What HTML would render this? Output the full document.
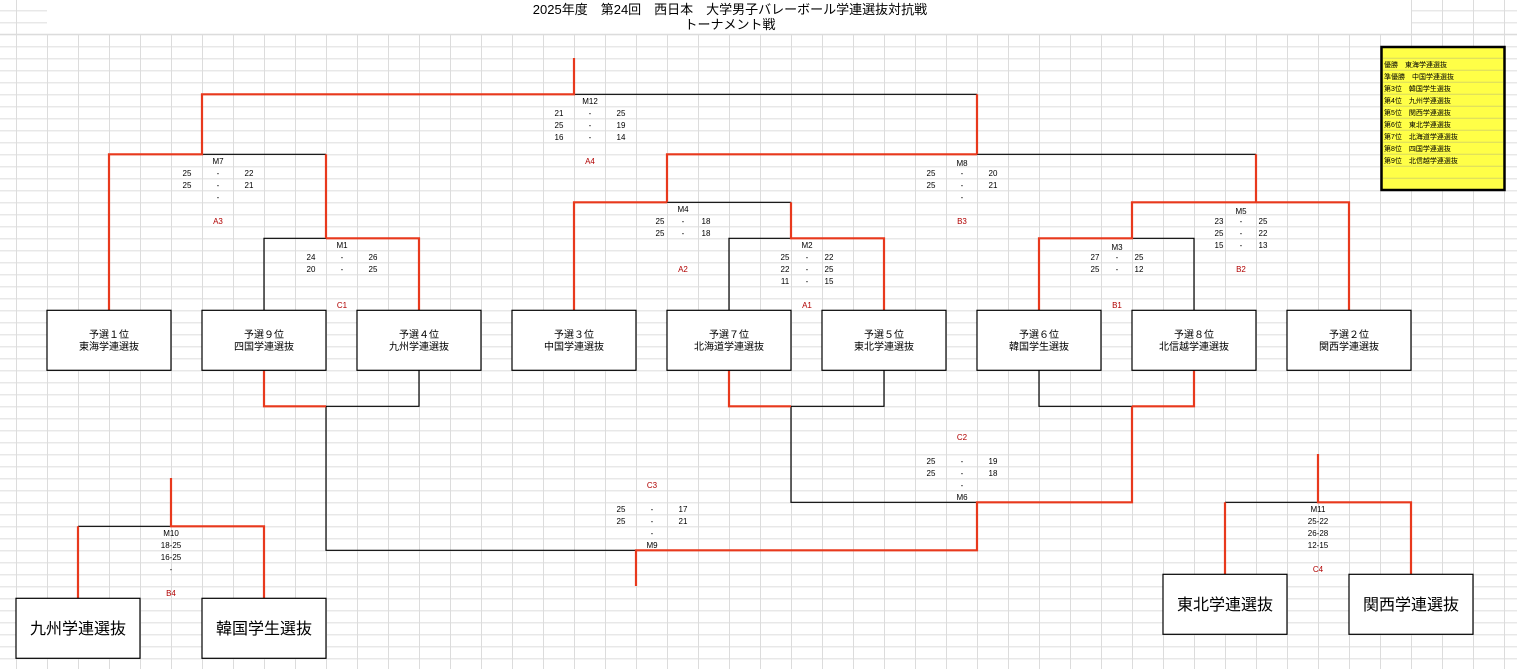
<!DOCTYPE html>
<html><head><meta charset="utf-8"><style>
html,body{margin:0;padding:0;background:#fff;}
svg{display:block;}
text{font-family:"Liberation Sans","Noto Sans CJK JP",sans-serif;}
.s{font-size:8px;fill:#000;text-anchor:middle;}
.r{font-size:8px;fill:#b00000;text-anchor:middle;}
.b{font-size:10px;fill:#000;text-anchor:middle;}
.B{font-size:16px;fill:#000;text-anchor:middle;}
.y{font-size:7px;fill:#000;}
.k{stroke:#000;stroke-width:1.2;fill:none;}
.e{stroke:#e8391d;stroke-width:2.2;fill:none;}
.bx{fill:#fff;stroke:#000;stroke-width:1.2;}
</style></head><body>
<svg width="1517" height="669" viewBox="0 0 1517 669" xmlns="http://www.w3.org/2000/svg">
<defs>
<pattern id="g" patternUnits="userSpaceOnUse" x="16" y="34.33" width="31" height="12">
<path d="M0.5 0V12M0 0.5H31" stroke="#dcdcdc" stroke-width="1" fill="none"/>
</pattern>
</defs>
<rect x="0" y="34" width="1517" height="635" fill="url(#g)"/>
<rect x="0" y="0" width="47" height="34" fill="url(#g)"/>
<rect x="1411" y="0" width="106" height="34" fill="url(#g)"/>
<line x1="0" y1="34.3" x2="1517" y2="34.3" stroke="#dcdcdc"/>

<text x="730" y="14" style="font-size:13px" text-anchor="middle">2025年度　第24回　西日本　大学男子バレーボール学連選抜対抗戦</text>
<text x="730" y="29" style="font-size:13px" text-anchor="middle">トーナメント戦</text>

<!-- yellow box -->
<rect x="1381.5" y="47" width="123" height="143" fill="#ffff47" stroke="#000" stroke-width="2.5"/>
<g stroke="#d8d860" stroke-width="1">
<line x1="1383" y1="58.3" x2="1503" y2="58.3"/><line x1="1383" y1="70.3" x2="1503" y2="70.3"/><line x1="1383" y1="82.3" x2="1503" y2="82.3"/><line x1="1383" y1="94.3" x2="1503" y2="94.3"/><line x1="1383" y1="106.3" x2="1503" y2="106.3"/><line x1="1383" y1="118.3" x2="1503" y2="118.3"/><line x1="1383" y1="130.3" x2="1503" y2="130.3"/><line x1="1383" y1="142.3" x2="1503" y2="142.3"/><line x1="1383" y1="154.3" x2="1503" y2="154.3"/><line x1="1383" y1="166.3" x2="1503" y2="166.3"/><line x1="1383" y1="178.3" x2="1503" y2="178.3"/>
</g>
<text class="y" x="1384" y="67">優勝　東海学連選抜</text>
<text class="y" x="1384" y="79">準優勝　中国学連選抜</text>
<text class="y" x="1384" y="91">第3位　韓国学生選抜</text>
<text class="y" x="1384" y="103">第4位　九州学連選抜</text>
<text class="y" x="1384" y="115">第5位　関西学連選抜</text>
<text class="y" x="1384" y="127">第6位　東北学連選抜</text>
<text class="y" x="1384" y="139">第7位　北海道学連選抜</text>
<text class="y" x="1384" y="151">第8位　四国学連選抜</text>
<text class="y" x="1384" y="163">第9位　北信越学連選抜</text>

<!-- black lines -->
<path class="k" d="M574 94.3H977 M202 154.3H326 M264 310V238.3H326 M977 154.3H1256 M667 202.3H791 M729 310V238.3H791 M1256 202.3H1349 M1132 238.3H1194V310
M326 406.3H419V370 M791 406.3H884V370 M1039 370V406.3H1132 M326 406.3V550.3H636 M791 406.3V502.3H977 M78 526.3H171 M1225 502.3H1318"/>
<!-- red lines -->
<path class="e" d="M574 58V94.3H202V154.3H109V310 M202 94.3H574 M977 94.3V154.3 M326 154.3V238.3 M326 238.3H419V310
M977 154.3H667V202.3 M667 202.3H574V310 M791 202.3V238.3H884V310
M1256 154.3V202.3H1132V238.3H1039V310 M1256 202.3H1349V310
M264 370V406.3H326 M729 370V406.3H791 M1194 370V406.3H1132 M1132 406.3V502.3H977V550.3H636V586 M977 502.3V550.3
M171 478V526.3H264V598 M78 526.3V598 M1318 454V502.3H1411V574 M1225 502.3V574"/>

<!-- boxes -->
<rect class="bx" x="47" y="310.3" width="124" height="60"/>
<rect class="bx" x="202" y="310.3" width="124" height="60"/>
<rect class="bx" x="357" y="310.3" width="124" height="60"/>
<rect class="bx" x="512" y="310.3" width="124" height="60"/>
<rect class="bx" x="667" y="310.3" width="124" height="60"/>
<rect class="bx" x="822" y="310.3" width="124" height="60"/>
<rect class="bx" x="977" y="310.3" width="124" height="60"/>
<rect class="bx" x="1132" y="310.3" width="124" height="60"/>
<rect class="bx" x="1287" y="310.3" width="124" height="60"/>
<g class="b">
<text x="109" y="338">予選１位</text><text x="109" y="350">東海学連選抜</text>
<text x="264" y="338">予選９位</text><text x="264" y="350">四国学連選抜</text>
<text x="419" y="338">予選４位</text><text x="419" y="350">九州学連選抜</text>
<text x="574" y="338">予選３位</text><text x="574" y="350">中国学連選抜</text>
<text x="729" y="338">予選７位</text><text x="729" y="350">北海道学連選抜</text>
<text x="884" y="338">予選５位</text><text x="884" y="350">東北学連選抜</text>
<text x="1039" y="338">予選６位</text><text x="1039" y="350">韓国学生選抜</text>
<text x="1194" y="338">予選８位</text><text x="1194" y="350">北信越学連選抜</text>
<text x="1349" y="338">予選２位</text><text x="1349" y="350">関西学連選抜</text>
</g>
<rect class="bx" x="16" y="598.3" width="124" height="60"/>
<rect class="bx" x="202" y="598.3" width="124" height="60"/>
<rect class="bx" x="1163" y="574.3" width="124" height="60"/>
<rect class="bx" x="1349" y="574.3" width="124" height="60"/>
<text class="B" x="78" y="634">九州学連選抜</text>
<text class="B" x="264" y="634">韓国学生選抜</text>
<text class="B" x="1225" y="610">東北学連選抜</text>
<text class="B" x="1411" y="610">関西学連選抜</text>

<!-- scores -->
<g class="s">
<text x="590" y="104">M12</text>
<text x="559" y="116">21</text><text x="590" y="116">-</text><text x="621" y="116">25</text>
<text x="559" y="128">25</text><text x="590" y="128">-</text><text x="621" y="128">19</text>
<text x="559" y="140">16</text><text x="590" y="140">-</text><text x="621" y="140">14</text>

<text x="218" y="164">M7</text>
<text x="187" y="176">25</text><text x="218" y="176">-</text><text x="249" y="176">22</text>
<text x="187" y="188">25</text><text x="218" y="188">-</text><text x="249" y="188">21</text>
<text x="218" y="200">-</text>

<text x="342" y="248">M1</text>
<text x="311" y="260">24</text><text x="342" y="260">-</text><text x="373" y="260">26</text>
<text x="311" y="272">20</text><text x="342" y="272">-</text><text x="373" y="272">25</text>

<text x="683" y="212">M4</text>
<text x="660" y="224">25</text><text x="683" y="224">-</text><text x="706" y="224">18</text>
<text x="660" y="236">25</text><text x="683" y="236">-</text><text x="706" y="236">18</text>

<text x="807" y="248">M2</text>
<text x="785" y="260">25</text><text x="807" y="260">-</text><text x="829" y="260">22</text>
<text x="785" y="272">22</text><text x="807" y="272">-</text><text x="829" y="272">25</text>
<text x="785" y="284">11</text><text x="807" y="284">-</text><text x="829" y="284">15</text>

<text x="962" y="166">M8</text>
<text x="931" y="176">25</text><text x="962" y="176">-</text><text x="993" y="176">20</text>
<text x="931" y="188">25</text><text x="962" y="188">-</text><text x="993" y="188">21</text>
<text x="962" y="200">-</text>

<text x="1241" y="214">M5</text>
<text x="1219" y="224">23</text><text x="1241" y="224">-</text><text x="1263" y="224">25</text>
<text x="1219" y="236">25</text><text x="1241" y="236">-</text><text x="1263" y="236">22</text>
<text x="1219" y="248">15</text><text x="1241" y="248">-</text><text x="1263" y="248">13</text>

<text x="1117" y="250">M3</text>
<text x="1095" y="260">27</text><text x="1117" y="260">-</text><text x="1139" y="260">25</text>
<text x="1095" y="272">25</text><text x="1117" y="272">-</text><text x="1139" y="272">12</text>

<text x="931" y="464">25</text><text x="962" y="464">-</text><text x="993" y="464">19</text>
<text x="931" y="476">25</text><text x="962" y="476">-</text><text x="993" y="476">18</text>
<text x="962" y="488">-</text><text x="962" y="500">M6</text>

<text x="621" y="512">25</text><text x="652" y="512">-</text><text x="683" y="512">17</text>
<text x="621" y="524">25</text><text x="652" y="524">-</text><text x="683" y="524">21</text>
<text x="652" y="536">-</text><text x="652" y="548">M9</text>

<text x="171" y="536">M10</text><text x="171" y="548">18-25</text><text x="171" y="560">16-25</text><text x="171" y="572">-</text>
<text x="1318" y="512">M11</text><text x="1318" y="524">25-22</text><text x="1318" y="536">26-28</text><text x="1318" y="548">12-15</text>
</g>
<g class="r">
<text x="590" y="164">A4</text><text x="218" y="224">A3</text><text x="342" y="308">C1</text>
<text x="683" y="272">A2</text><text x="807" y="308">A1</text><text x="962" y="224">B3</text>
<text x="1241" y="272">B2</text><text x="1117" y="308">B1</text><text x="962" y="440">C2</text>
<text x="652" y="488">C3</text><text x="171" y="596">B4</text><text x="1318" y="572">C4</text>
</g>
</svg>
</body></html>
